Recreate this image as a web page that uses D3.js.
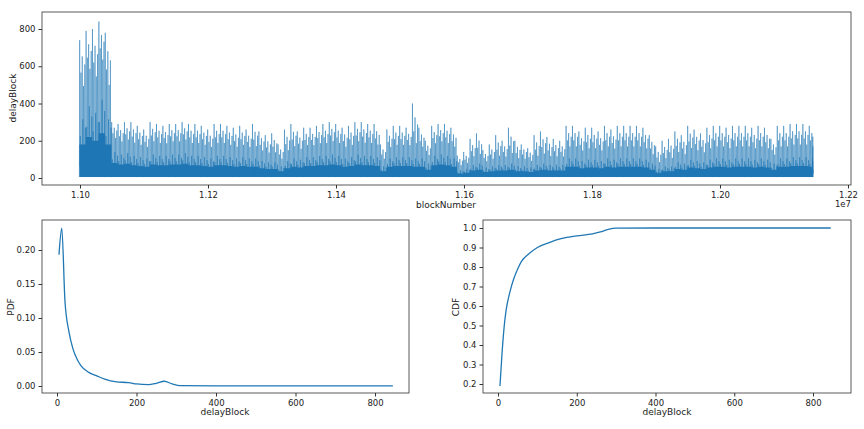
<!DOCTYPE html>
<html><head><meta charset="utf-8">
<script src="https://cdn.jsdelivr.net/npm/d3@7"></script>
<style>body{margin:0;background:#fff}text{font-family:"DejaVu Sans",sans-serif;fill:#222}</style>
</head><body><svg id="c" width="864" height="429"></svg>
<script>
// top series: per 10k-block bins starting at 1.0999e7
const binStart = 10999000, binWidth = 10000, blockEnd = 12145000;
const delayMax = [740,790,800,840,780,300,290,300,300,280,260,300,290,280,290,
  290,300,290,290,280,260,290,290,280,270,280,260,290,250,230,240,180,260,290,250,
  270,270,280,290,300,290,270,280,300,300,290,290,180,260,280,280,270,400,270,200,280,290,290,270,
  120,140,210,240,150,180,230,200,270,200,180,160,230,250,220,210,200,280,280,250,270,270,250,280,
  260,280,280,280,280,270,230,170,200,210,250,230,280,260,240,270,280,280,270,280,280,280,270,280,
  270,210,280,280,290,290,290,280];
const delayTypical = [450,550,500,600,450,200,180,190,170,160,150,180,170,170,180,
  180,190,170,170,160,150,170,170,160,150,160,150,150,130,120,120,90,130,150,140,
  160,160,170,170,180,170,150,160,180,170,170,160,90,150,160,160,160,150,150,110,170,180,170,150,
  60,70,100,110,80,90,100,100,110,90,90,80,100,110,100,100,100,150,150,130,140,140,130,150,
  140,150,150,150,150,140,110,70,90,90,120,110,140,130,120,140,150,150,140,150,150,150,140,150,
  140,110,150,150,160,160,160,150];
const delayLow = 5;
// relative spike heights inside a bin: 1 = bin max, 0 = typical, negative = below typical
const spikeShape = [1,-0.5,0.4,-0.8,0.7,-0.3,0.15,-0.7,0.55,-0.4];

const pdfX = [5,12,20,30,40,50,60,80,100,120,150,180,200,230,250,270,290,310,400,600,845];
const pdfY = [0.193,0.232,0.125,0.08,0.055,0.04,0.03,0.02,0.015,0.01,0.006,0.005,0.003,0.002,0.004,0.007,0.003,0.0005,0.0002,0.0001,0.0001];
const cdfX = [5,10,15,20,30,40,50,60,80,100,130,160,200,240,260,280,300,400,845];
const cdfY = [0.19,0.35,0.48,0.57,0.67,0.74,0.79,0.83,0.87,0.9,0.925,0.945,0.96,0.97,0.98,0.993,0.999,1,1];

const blue = "#1f77b4";
const svg = d3.select("#c");

function frame(x0,y0,x1,y1){
  svg.append("rect").attr("x",x0).attr("y",y0).attr("width",x1-x0).attr("height",y1-y0)
    .attr("fill","none").attr("stroke","#333").attr("stroke-width",0.8);
}
function axes(x,y,bottom,left,xfmt,yfmt,xt,yt){
  const gx = svg.append("g").attr("transform",`translate(0,${bottom})`)
    .call(d3.axisBottom(x).tickValues(xt).tickFormat(xfmt).tickSize(3.5).tickPadding(3));
  const gy = svg.append("g").attr("transform",`translate(${left},0)`)
    .call(d3.axisLeft(y).tickValues(yt).tickFormat(yfmt).tickSize(3.5).tickPadding(3));
  [gx,gy].forEach(g=>{g.select(".domain").remove();g.selectAll("text").attr("font-size",8.5).style("fill","#222");g.selectAll("line").attr("stroke","#333");});
}
function label(t,x,y,rot){
  svg.append("text").attr("transform",`translate(${x},${y})${rot?" rotate(-90)":""}`)
    .attr("text-anchor","middle").attr("font-size",9).text(t);
}

// top
const xT = d3.scaleLinear().domain([1.10e7,1.22e7]).range([80,848]);
const yT = d3.scaleLinear().domain([0,800]).range([178,29]);
frame(42,12,851,185);
axes(xT,yT,185,42,d=>(d/1e7).toFixed(2),d3.format("d"),d3.range(1.10e7,1.2201e7,0.02e7),[0,200,400,600,800]);
label("blockNumber",446,208);
label("delayBlock",16,98,true);
svg.append("text").attr("x",851).attr("y",207).attr("text-anchor","end").attr("font-size",8.5).text("1e7");

const pts = [], band = [];
delayMax.forEach((m,i)=>{
  const s = binStart + i*binWidth, t = delayTypical[i];
  if (s >= blockEnd) return;
  const n = spikeShape.length;
  spikeShape.forEach((f,j)=>{
    const bx = Math.min(s + j*binWidth/n, blockEnd);
    const v = f >= 0 ? t + f*(m - t) : t*(1+f);
    const low = j % 3 === 0 ? delayLow : delayLow + t*0.12;
    pts.push([bx,low],[Math.min(bx+binWidth/(2*n),blockEnd),Math.max(v,delayLow+10)]);
  });
  band.push([s,t*0.4],[Math.min(s+binWidth,blockEnd),t*0.4]);
});
svg.append("path").datum(band).attr("fill",blue)
  .attr("d",d3.area().x(d=>xT(d[0])).y0(yT(delayLow)).y1(d=>yT(d[1])));
svg.append("path").datum(pts).attr("fill","none").attr("stroke",blue).attr("stroke-width",0.5)
  .attr("d",d3.line().x(d=>xT(d[0])).y(d=>yT(d[1])));

// pdf
const xP = d3.scaleLinear().domain([0,800]).range([57,375]);
const yP = d3.scaleLinear().domain([0,0.2]).range([386,250]);
frame(42,220,409,393);
axes(xP,yP,393,42,d3.format("d"),d3.format(".2f"),[0,200,400,600,800],[0,0.05,0.1,0.15,0.2]);
label("delayBlock",225,415);
label("PDF",14,307,true);
svg.append("path").datum(pdfX.map((v,i)=>[v,pdfY[i]])).attr("fill","none").attr("stroke",blue).attr("stroke-width",1.3)
  .attr("d",d3.line().curve(d3.curveMonotoneX).x(d=>xP(d[0])).y(d=>yP(d[1])));

// cdf
const xC = d3.scaleLinear().domain([0,800]).range([498,813]);
const yC = d3.scaleLinear().domain([0.2,1.0]).range([384,228]);
frame(483,220,851,393);
axes(xC,yC,393,483,d3.format("d"),d3.format(".1f"),[0,200,400,600,800],d3.range(0.2,1.01,0.1));
label("delayBlock",667,415);
label("CDF",459,307,true);
svg.append("path").datum(cdfX.map((v,i)=>[v,cdfY[i]])).attr("fill","none").attr("stroke",blue).attr("stroke-width",1.3)
  .attr("d",d3.line().curve(d3.curveMonotoneX).x(d=>xC(d[0])).y(d=>yC(d[1])));
</script></body></html>
